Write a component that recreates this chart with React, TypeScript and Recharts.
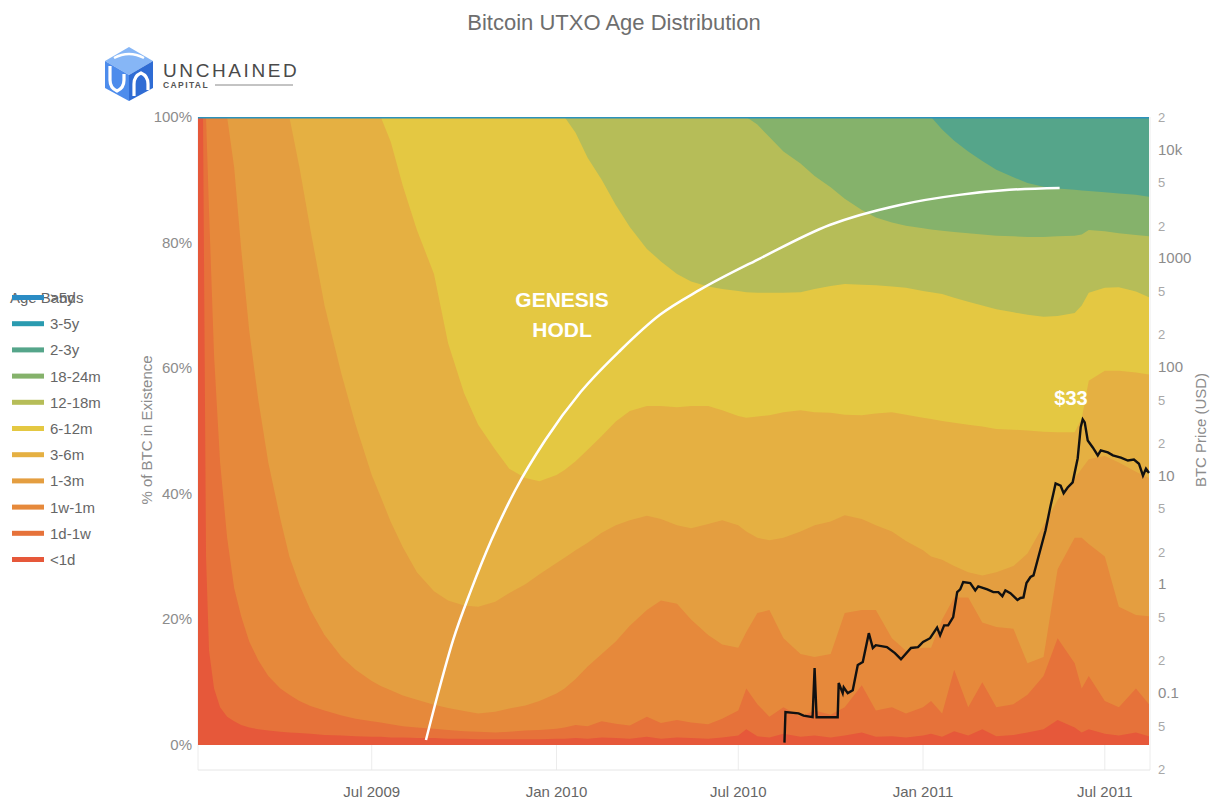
import React from 'react';
import { ComposedChart, Area, Line, XAxis, YAxis, CartesianGrid } from 'recharts';

// ---------- sample dates for the age-band shares ----------
const dates = [
  '2009-01-09','2009-01-11','2009-01-14','2009-01-17','2009-01-20','2009-01-25','2009-01-31','2009-02-07','2009-02-14','2009-02-21',
  '2009-03-01','2009-03-10','2009-03-20','2009-04-01','2009-04-10','2009-04-20','2009-05-01','2009-05-15','2009-06-01','2009-06-15',
  '2009-07-01','2009-07-10','2009-07-20','2009-08-01','2009-08-15','2009-09-01','2009-09-15','2009-10-01','2009-10-15','2009-11-01',
  '2009-11-15','2009-12-01','2009-12-15','2010-01-01','2010-01-09','2010-01-20','2010-02-01','2010-02-15','2010-03-01','2010-03-15',
  '2010-04-01','2010-04-15','2010-05-01','2010-05-15','2010-06-01','2010-06-15','2010-07-01','2010-07-09','2010-07-20','2010-08-01',
  '2010-08-15','2010-09-01','2010-09-15','2010-10-01','2010-10-15','2010-11-01','2010-11-15','2010-12-01','2010-12-15','2011-01-01',
  '2011-01-09','2011-01-20','2011-02-01','2011-02-15','2011-03-01','2011-03-15','2011-04-01','2011-04-15','2011-05-01','2011-05-15',
  '2011-06-01','2011-06-08','2011-06-15','2011-07-01','2011-07-15','2011-08-01','2011-08-14',
];

// cumulative % of BTC younger than each age
const pctUnder1d = [
  100,100,100,30,15,9,6,4.5,3.8,3.2,
  2.8,2.5,2.3,2.1,2.0,1.9,1.8,1.6,1.5,1.4,
  1.3,1.3,1.2,1.2,1.1,1.1,1.0,1.0,0.9,0.9,
  0.9,0.9,0.9,1.0,1.0,1.1,1.0,1.2,1.1,1.0,
  1.3,1.0,1.2,1.1,1.0,1.2,1.5,2.5,1.4,1.2,
  1.8,1.3,1.5,1.2,1.5,2.0,1.3,1.4,1.2,1.5,
  1.8,1.3,2.2,1.5,2.5,1.4,1.6,2.0,2.5,4.0,
  2.8,2.0,2.5,1.8,1.5,2.0,1.4,
];
const pctUnder1w = [
  100,100,100,100,85,62,45,33,25,20.5,
  16.5,13.5,11,9,8,7,6.2,5.5,4.7,4.2,
  3.8,3.6,3.3,3.0,2.8,2.6,2.4,2.2,2.1,2.0,
  2.1,2.3,2.4,2.6,2.8,3.2,3.0,3.8,3.4,3.1,
  4.5,3.5,4.0,3.6,3.3,4.2,5.5,9.0,6.5,4.5,
  6.0,4.5,5.5,4.8,6.0,9.5,5.5,6.0,5.0,6.0,
  7.0,5.0,12.0,6.0,10.0,6.0,6.5,8.0,11.0,17.0,
  13.0,9.0,11.0,7.0,6.0,9.0,6.5,
];
const pctUnder1m = [
  100,100,100,100,100,100,100,100,92,79,
  66,55,45,36,30,25.5,21.5,17.5,14,12,
  10.2,9.4,8.7,7.9,7.2,6.4,5.9,5.4,5.0,5.3,
  5.8,6.3,7.0,8.2,9.0,10.5,12.5,14.5,16.5,19.0,
  21.5,23.0,22.5,20.0,17.5,16.0,15.5,18.0,21.0,21.5,
  17.0,14.5,14.0,14.5,21.0,21.5,21.5,17.0,15.0,15.5,
  15.5,20.0,23.5,23.5,19.5,18.8,18.5,13.0,14.0,28.0,
  33.0,33.0,32.0,30.0,22.0,20.7,20.5,
];
const pctUnder3m = [
  100,100,100,100,100,100,100,100,100,100,
  100,100,100,100,100,92,82,70,59,51,
  43,39.5,35.5,31.5,27.5,24.5,23,22.2,22.0,22.8,
  24.2,25.6,27.2,29.0,29.8,31.0,32.2,33.8,35.0,35.8,
  36.5,36.0,35.0,34.5,35.2,35.8,35.0,34.0,33.0,32.6,
  33.0,34.0,35.0,35.6,36.6,36.0,35.0,34.0,32.5,31.0,
  30.0,29.5,28.5,27.5,27.0,27.5,28.5,30.5,35.0,39.0,
  42.5,44.0,45.5,46.0,45.0,43.5,42.5,
];
const pctUnder6m = [
  100,100,100,100,100,100,100,100,100,100,
  100,100,100,100,100,100,100,100,100,100,
  100,100,96,89,82,75,64,56,51,47,
  44.0,42.5,42.0,43.0,43.8,45.2,47.0,49.2,51.5,53.2,
  54.0,54.0,53.8,54.0,54.0,53.3,52.4,52.1,52.3,52.5,
  53.0,53.3,53.0,52.9,52.6,52.5,52.8,53.0,52.6,52.1,
  51.9,51.6,51.3,51.0,50.7,50.3,50.2,50.1,49.9,49.8,
  49.8,52.0,58.0,59.6,59.6,59.3,59.0,
];
const pctUnder12m = [
  100,100,100,100,100,100,100,100,100,100,
  100,100,100,100,100,100,100,100,100,100,
  100,100,100,100,100,100,100,100,100,100,
  100,100,100,100,100,97.5,93.5,90,86,82.5,
  79.0,77.0,75.0,73.8,73.0,72.6,72.3,72.1,72.0,72.0,
  72.0,72.1,72.6,73.1,73.4,73.3,73.2,73.0,72.8,72.3,
  72.1,71.8,71.2,70.6,70.0,69.4,68.9,68.5,68.2,68.3,
  68.8,70.0,72.0,72.8,72.9,72.2,71.3,
];
const pctUnder18m = [
  100,100,100,100,100,100,100,100,100,100,
  100,100,100,100,100,100,100,100,100,100,
  100,100,100,100,100,100,100,100,100,100,
  100,100,100,100,100,100,100,100,100,100,
  100,100,100,100,100,100,100,100,98.8,96.8,
  94.5,92.6,90.6,88.8,87.0,85.2,84.0,83.2,82.7,82.3,
  82.1,81.9,81.7,81.5,81.3,81.1,81.0,80.9,80.9,81.0,
  81.1,81.3,82.0,81.8,81.5,81.2,81.0,
];
const pctUnder24m = [
  100,100,100,100,100,100,100,100,100,100,
  100,100,100,100,100,100,100,100,100,100,
  100,100,100,100,100,100,100,100,100,100,
  100,100,100,100,100,100,100,100,100,100,
  100,100,100,100,100,100,100,100,100,100,
  100,100,100,100,100,100,100,100,100,100,
  100,98.0,96.2,94.5,93.0,91.6,90.4,89.5,88.9,88.6,
  88.4,88.3,88.2,88.0,87.8,87.6,87.3,
];

// ---------- BTC price ----------
const priceDates = [
  '2010-08-16','2010-08-17','2010-08-30','2010-09-04','2010-09-13','2010-09-15','2010-09-17','2010-10-08','2010-10-09','2010-10-13',
  '2010-10-14','2010-10-18','2010-10-23','2010-10-28','2010-11-02','2010-11-08','2010-11-12','2010-11-15','2010-11-26','2010-12-04',
  '2010-12-10','2010-12-20','2010-12-27','2011-01-01','2011-01-08','2011-01-15','2011-01-18','2011-01-22','2011-01-26','2011-01-31',
  '2011-02-04','2011-02-07','2011-02-10','2011-02-17','2011-02-22','2011-02-25','2011-03-06','2011-03-12','2011-03-17','2011-03-21',
  '2011-03-24','2011-03-29','2011-04-05','2011-04-08','2011-04-11','2011-04-14','2011-04-18','2011-04-21','2011-04-25','2011-04-29',
  '2011-05-03','2011-05-08','2011-05-11','2011-05-13','2011-05-18','2011-05-21','2011-05-25','2011-05-30','2011-06-04','2011-06-07',
  '2011-06-09','2011-06-11','2011-06-14','2011-06-19','2011-06-24','2011-06-27','2011-07-04','2011-07-09','2011-07-17','2011-07-24',
  '2011-07-30','2011-08-04','2011-08-08','2011-08-11','2011-08-14',
];
const priceUsd = [
  0.035,0.067,0.065,0.062,0.060,0.17,0.060,0.060,0.124,0.100,
  0.113,0.100,0.106,0.181,0.193,0.356,0.26,0.276,0.265,0.233,
  0.205,0.26,0.265,0.295,0.32,0.40,0.34,0.42,0.42,0.50,
  0.85,0.90,1.05,1.03,0.88,0.96,0.90,0.85,0.85,0.78,
  0.88,0.83,0.72,0.75,0.76,1.03,1.17,1.21,1.67,2.29,
  3.15,5.3,7.0,8.5,8.1,6.9,7.8,8.7,14.5,27.9,
  33,31,21.1,18.2,15.4,17.1,16.4,15.4,14.7,13.8,
  14.1,12.9,10.0,11.6,10.6,
];

// ---------- "Genesis HODL" arc (annotation path in data coords) ----------
const arcDates = ['2009-08-24','2009-09-06','2009-09-20','2009-10-08','2009-10-28','2009-11-21','2009-12-21','2010-01-25','2010-03-06','2010-04-14','2010-05-24','2010-07-23','2010-09-30','2010-12-09','2011-02-06','2011-03-28','2011-05-17'];
const arcPct = [0.8,8.8,16.7,24.7,32.6,40.6,48.6,56.2,62.9,68.5,72.5,77.5,82.8,86.0,87.6,88.4,88.7];

// ---------- legend / bands ----------
const bandNames = ['>5y','3-5y','2-3y','18-24m','12-18m','6-12m','3-6m','1-3m','1w-1m','1d-1w','<1d'];
const bandColors = ['#2b8cc4','#2a9bb0','#55a58a','#85b26b','#b6bd58','#e4c842','#e5b042','#e49e40','#e6893b','#e6723a','#e6583a'];

const xTickDates = ['2009-07-01','2010-01-01','2010-07-01','2011-01-01','2011-07-01'];
const xTickLabels = ['Jul 2009','Jan 2010','Jul 2010','Jan 2011','Jul 2011'];
const pctTicks = [0, 20, 40, 60, 80, 100];
const priceTicks = [0.02,0.05,0.1,0.2,0.5,1,2,5,10,20,50,100,200,500,1000,2000,5000,10000,20000];

const ts = (s: string) => Date.parse(s + 'T00:00:00Z');

const table = dates.map((d, i) => ({
  t: ts(d),
  all: 100,
  u24m: pctUnder24m[i],
  u18m: pctUnder18m[i],
  u12m: pctUnder12m[i],
  u6m: pctUnder6m[i],
  u3m: pctUnder3m[i],
  u1m: pctUnder1m[i],
  u1w: pctUnder1w[i],
  u1d: pctUnder1d[i],
}));
const priceData = priceDates.map((d, i) => ({ t: ts(d), price: priceUsd[i] }));
const arcData = arcDates.map((d, i) => ({ t: ts(d), arc: arcPct[i] }));
const xTicks = xTickDates.map(ts);

// area drawn top band first; each fills 0..upper boundary of its band
const areaKeys = ['all','u24m','u18m','u12m','u6m','u3m','u1m','u1w','u1d'];
const areaColorIdx = [2,3,4,5,6,7,8,9,10];

const FONT = '"Liberation Sans", Arial, Helvetica, sans-serif';

const fmtPrice = (v: number) => {
  if (v === 10000) return '10k';
  const lg = Math.log10(v);
  if (Math.abs(lg - Math.round(lg)) < 1e-9) return String(v);
  const m = String(v).match(/[1-9]/);
  return m ? m[0] : String(v);
};

const LeftTick = (p: any) => (
  <text x={p.x} y={p.y} dy={5} textAnchor="end" fontSize={15} fill="#8c8c8c" fontFamily={FONT}>
    {p.payload.value}%
  </text>
);
const RightTick = (p: any) => {
  const v = p.payload.value;
  const lg = Math.log10(v);
  const major = Math.abs(lg - Math.round(lg)) < 1e-9;
  return (
    <text x={p.x} y={p.y} dy={5} textAnchor="start" fontSize={major ? 15 : 13} fill={major ? '#8c8c8c' : '#a8a8a8'} fontFamily={FONT}>
      {fmtPrice(v)}
    </text>
  );
};
const BottomTick = (p: any) => {
  const idx = xTicks.indexOf(p.payload.value);
  return (
    <text x={p.x} y={p.y} dy={25} textAnchor="middle" fontSize={15} fill="#666" fontFamily={FONT}>
      {idx >= 0 ? xTickLabels[idx] : ''}
    </text>
  );
};

const Logo = () => (
  <g>
    <polygon points="129,47 153,61 129,75 105,61" fill="#86b6f6" />
    <polygon points="105,61 129,75 129,101 105,88" fill="#4d8cec" />
    <polygon points="129,75 153,61 153,88 129,101" fill="#2f6cd4" />
    <path d="M110,66 L110,80 Q110,88 117,91 Q124,88 124,80 L124,74" fill="none" stroke="#fff" strokeWidth={3.2} />
    <path d="M134,96 L134,84 Q134,76 141,73 Q148,76 148,84 L148,90" fill="none" stroke="#fff" strokeWidth={3.2} />
    <path d="M114,58 Q129,50 144,58" fill="none" stroke="#fff" strokeWidth={2.5} />
    <text x={163} y={77} fontSize={19} letterSpacing={2.6} fill="#4a4a4a" fontFamily={FONT}>UNCHAINED</text>
    <text x={163} y={88} fontSize={8.5} fontWeight="bold" letterSpacing={1.4} fill="#555" fontFamily={FONT}>CAPITAL</text>
    <line x1={215} y1={85} x2={293} y2={85} stroke="#888" strokeWidth={1} />
  </g>
);

const Overlay = () => (
  <svg width={1210} height={801} style={{ position: 'absolute', left: 0, top: 0, pointerEvents: 'none' }}>
    <text x={614} y={30} textAnchor="middle" fontSize={22} fill="#6e6e6e" fontFamily={FONT}>Bitcoin UTXO Age Distribution</text>
    <Logo />
    <text transform="translate(152,430) rotate(-90)" textAnchor="middle" fontSize={15} fill="#8c8c8c" fontFamily={FONT}>% of BTC in Existence</text>
    <text transform="translate(1206,430) rotate(-90)" textAnchor="middle" fontSize={15} fill="#8c8c8c" fontFamily={FONT}>BTC Price (USD)</text>
    {/* legend */}
    <text x={10} y={303} fontSize={15} fill="#666" fontFamily={FONT}>Age Bands</text>
    {bandNames.map((n, i) => {
      const yc = 297.5 + i * 26.2;
      return (
        <g key={n}>
          <rect x={12} y={yc - 2.5} width={32} height={5} fill={bandColors[i]} />
          <text x={50} y={yc + 5.5} fontSize={15} fill="#666" fontFamily={FONT}>{n}</text>
        </g>
      );
    })}
    {/* annotations */}
    <text x={562} y={307} textAnchor="middle" fontSize={21} fontWeight="bold" fill="#fff" fontFamily={FONT}>GENESIS</text>
    <text x={562} y={337} textAnchor="middle" fontSize={21} fontWeight="bold" fill="#fff" fontFamily={FONT}>HODL</text>
    <text x={1071} y={405} textAnchor="middle" fontSize={20} fontWeight="bold" fill="#fff" fontFamily={FONT}>$33</text>
  </svg>
);

export default function App() {
  return (
    <div style={{ position: 'absolute', left: 0, top: 0, width: 1210, height: 801, background: '#fff', fontFamily: FONT }}>
      <ComposedChart width={1210} height={801} data={table} margin={{ top: 117, right: 10, bottom: 0, left: 138 }}>
        <CartesianGrid horizontal={false} stroke="#ececec" />
        <XAxis
          dataKey="t" type="number" scale="time" domain={[ts('2009-01-09'), ts('2011-08-15')]} allowDataOverflow
          ticks={xTicks} tick={<BottomTick />} tickLine={false} tickSize={0} height={31} axisLine={{ stroke: '#e6e6e6' }}
        />
        <YAxis
          yAxisId="pct" orientation="left" type="number" domain={[-3.98, 100]} allowDataOverflow ticks={pctTicks}
          tick={<LeftTick />} tickLine={false} tickSize={0} tickMargin={6} axisLine={false} width={60}
        />
        <YAxis
          yAxisId="price" orientation="right" type="number" scale="log" domain={[0.0196, 20000]} allowDataOverflow ticks={priceTicks}
          tick={<RightTick />} tickLine={false} tickSize={0} tickMargin={8} axisLine={false} width={50}
        />
        {areaKeys.map((k, i) => (
          <Area
            key={k} yAxisId="pct" dataKey={k} type="linear" baseValue={0}
            fill={bandColors[areaColorIdx[i]]} fillOpacity={1} stroke="none"
            isAnimationActive={false} dot={false} activeDot={false}
          />
        ))}
        <Line yAxisId="pct" dataKey="all" stroke="#2c92bb" strokeWidth={3} dot={false} activeDot={false} isAnimationActive={false} />
        <Line yAxisId="pct" data={arcData} dataKey="arc" type="monotone" stroke="#fff" strokeWidth={2.5} dot={false} activeDot={false} isAnimationActive={false} />
        <Line yAxisId="price" data={priceData} dataKey="price" type="linear" stroke="#111" strokeWidth={2.4} dot={false} activeDot={false} isAnimationActive={false} />
      </ComposedChart>
      <Overlay />
    </div>
  );
}
